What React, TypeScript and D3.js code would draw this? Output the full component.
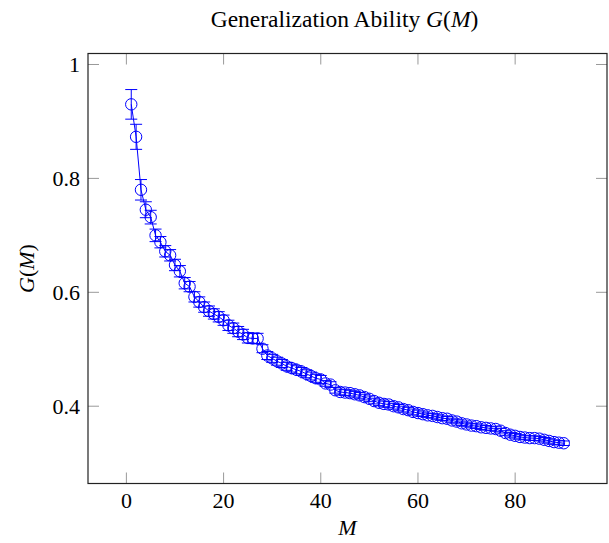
import * as d3 from "d3";

const mValues = [
  1, 2, 3, 4, 5, 6, 7, 8, 9, 10, 11, 12, 13, 14, 15, 16, 17, 18, 19, 20,
  21, 22, 23, 24, 25, 26, 27, 28, 29, 30, 31, 32, 33, 34, 35, 36, 37, 38, 39, 40,
  41, 42, 43, 44, 45, 46, 47, 48, 49, 50, 51, 52, 53, 54, 55, 56, 57, 58, 59, 60,
  61, 62, 63, 64, 65, 66, 67, 68, 69, 70, 71, 72, 73, 74, 75, 76, 77, 78, 79, 80,
  81, 82, 83, 84, 85, 86, 87, 88, 89, 90,
];

const gValues = [
  0.93, 0.873, 0.78, 0.745, 0.732, 0.7, 0.688, 0.672, 0.665, 0.648,
  0.637, 0.616, 0.61, 0.592, 0.583, 0.574, 0.567, 0.562, 0.557, 0.551,
  0.542, 0.537, 0.531, 0.526, 0.52, 0.519, 0.519, 0.501, 0.489, 0.484,
  0.479, 0.475, 0.47, 0.467, 0.464, 0.461, 0.457, 0.453, 0.449, 0.447,
  0.44, 0.438, 0.428, 0.425, 0.424, 0.423, 0.421, 0.419, 0.416, 0.413,
  0.409, 0.406, 0.404, 0.403, 0.4, 0.398, 0.395, 0.393, 0.39, 0.388,
  0.386, 0.384, 0.383, 0.381, 0.379, 0.378, 0.375, 0.373, 0.37, 0.368,
  0.366, 0.365, 0.363, 0.362, 0.361, 0.36, 0.357, 0.353, 0.35, 0.348,
  0.346, 0.345, 0.344, 0.344, 0.343, 0.341, 0.339, 0.337, 0.336, 0.335,
];

const gErrors = [
  0.026, 0.022, 0.018, 0.014, 0.012, 0.011, 0.01, 0.01, 0.01, 0.01,
  0.01, 0.01, 0.009, 0.009, 0.009, 0.009, 0.009, 0.009, 0.009, 0.009,
  0.009, 0.009, 0.009, 0.009, 0.009, 0.009, 0.009, 0.007, 0.007, 0.007,
  0.007, 0.007, 0.007, 0.007, 0.007, 0.007, 0.007, 0.007, 0.007, 0.007,
  0.005, 0.005, 0.005, 0.005, 0.005, 0.005, 0.005, 0.005, 0.005, 0.005,
  0.005, 0.005, 0.005, 0.005, 0.005, 0.005, 0.005, 0.005, 0.005, 0.005,
  0.004, 0.004, 0.004, 0.004, 0.004, 0.004, 0.004, 0.004, 0.004, 0.004,
  0.004, 0.004, 0.004, 0.004, 0.004, 0.004, 0.004, 0.004, 0.004, 0.004,
  0.004, 0.004, 0.004, 0.004, 0.004, 0.004, 0.004, 0.004, 0.004, 0.004,
];

const xTicks = [0, 20, 40, 60, 80];
const yTicks = [0.4, 0.6, 0.8, 1];

const W = 609;
const H = 543;
const left = 88;
const right = 607;
const top = 53.5;
const bottom = 483.5;
const font = "'Liberation Serif', 'DejaVu Serif', serif";
const blue = "#0000ff";
const fs = 22;

export default function App() {
  const x = d3.scaleLinear().domain([-7.9, 98.9]).range([left, right]);
  const y = d3.scaleLinear().domain([0.2643, 1.0193]).range([bottom, top]);

  const pts = mValues.map((m, i) => ({ m, g: gValues[i], e: gErrors[i] }));
  const line = d3
    .line<(typeof pts)[0]>()
    .x((d) => x(d.m))
    .y((d) => y(d.g));

  const tickLen = 11;
  const cap = 6;

  return (
    <svg
      width={W}
      height={H}
      style={{ position: "absolute", left: 0, top: 0, background: "#fff" }}
      fontFamily={font}
    >
      <rect x={0} y={0} width={W} height={H} fill="#fff" />
      {/* ticks, inward on all sides */}
      {xTicks.map((t) => (
        <g key={"x" + t} stroke="#999" strokeWidth={1}>
          <line x1={x(t)} x2={x(t)} y1={bottom} y2={bottom - tickLen} />
          <line x1={x(t)} x2={x(t)} y1={top} y2={top + tickLen} />
        </g>
      ))}
      {yTicks.map((t) => (
        <g key={"y" + t} stroke="#999" strokeWidth={1}>
          <line x1={left} x2={left + tickLen} y1={y(t)} y2={y(t)} />
          <line x1={right} x2={right - tickLen} y1={y(t)} y2={y(t)} />
        </g>
      ))}

      {/* series */}
      <path d={line(pts) ?? ""} fill="none" stroke={blue} strokeWidth={1} />
      {pts.map((d) => {
        const cx = x(d.m);
        const y0 = y(d.g - d.e);
        const y1 = y(d.g + d.e);
        return (
          <g key={d.m} stroke={blue} strokeWidth={1} fill="none">
            <line x1={cx} x2={cx} y1={y0} y2={y1} />
            <line x1={cx - cap} x2={cx + cap} y1={y0} y2={y0} />
            <line x1={cx - cap} x2={cx + cap} y1={y1} y2={y1} />
            <circle cx={cx} cy={y(d.g)} r={5.7} />
          </g>
        );
      })}

      {/* frame */}
      <rect
        x={left}
        y={top}
        width={right - left}
        height={bottom - top}
        fill="none"
        stroke="#222"
        strokeWidth={1.2}
      />

      {/* tick labels */}
      {xTicks.map((t) => (
        <text key={"xl" + t} x={x(t)} y={bottom + 24} textAnchor="middle" fontSize={fs} fill="#000">
          {t}
        </text>
      ))}
      {yTicks.map((t) => (
        <text key={"yl" + t} x={left - 8} y={y(t) + 7.5} textAnchor="end" fontSize={fs} fill="#000">
          {t}
        </text>
      ))}

      {/* axis labels */}
      <text x={(left + right) / 2} y={535} textAnchor="middle" fontSize={fs} fontStyle="italic">
        M
      </text>
      <text
        transform={`translate(34,${(top + bottom) / 2}) rotate(-90)`}
        textAnchor="middle"
        fontSize={fs}
      >
        <tspan fontStyle="italic">G</tspan>(<tspan fontStyle="italic">M</tspan>)
      </text>

      {/* title */}
      <text x={(left + right) / 2 - 3} y={27} textAnchor="middle" fontSize={23.5}>
        Generalization Ability <tspan fontStyle="italic">G</tspan>(<tspan fontStyle="italic">M</tspan>)
      </text>
    </svg>
  );
}
